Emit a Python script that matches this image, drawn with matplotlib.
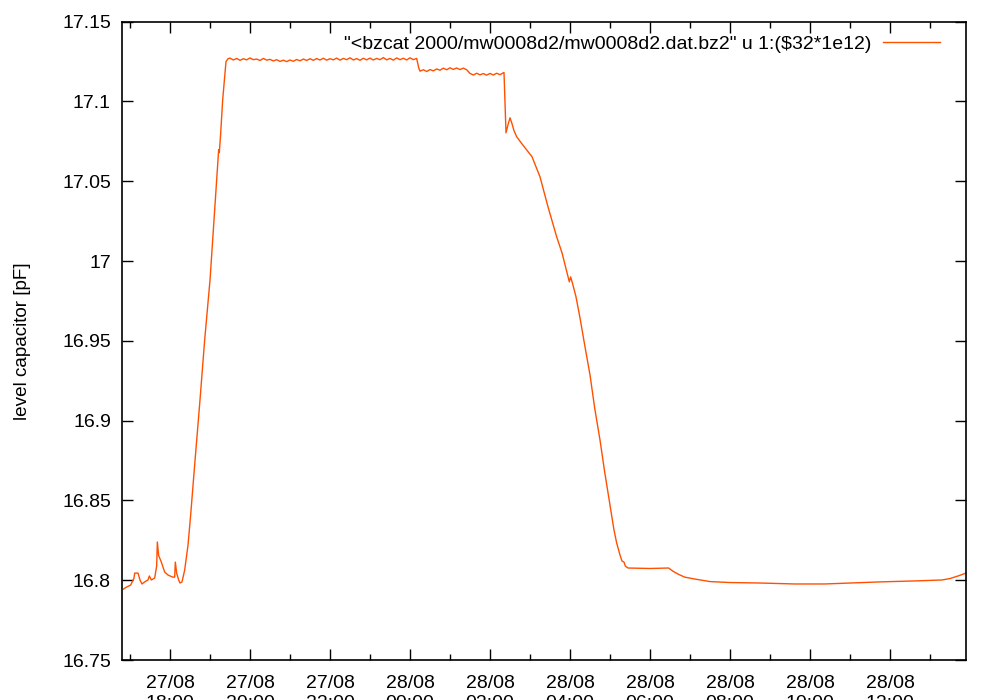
import pandas as pd
import matplotlib
matplotlib.use('Agg')
import matplotlib.pyplot as plt
import matplotlib.dates as mdates

plt.rcParams['font.family'] = ['Liberation Sans', 'DejaVu Sans']

# time stamps (dd/mm HH:MM, year 2000) and level capacitor readings [pF]
times = ['27/08 16:50', '27/08 16:55', '27/08 17:01', '27/08 17:06', '27/08 17:07', '27/08 17:12',
         '27/08 17:15', '27/08 17:18', '27/08 17:22', '27/08 17:27', '27/08 17:29', '27/08 17:32',
         '27/08 17:37', '27/08 17:40', '27/08 17:41', '27/08 17:43', '27/08 17:47', '27/08 17:52',
         '27/08 17:57', '27/08 18:04', '27/08 18:07', '27/08 18:08', '27/08 18:10', '27/08 18:13',
         '27/08 18:15', '27/08 18:18', '27/08 18:22', '27/08 18:27', '27/08 18:31', '27/08 18:37',
         '27/08 18:45', '27/08 18:52', '27/08 19:00', '27/08 19:07', '27/08 19:13', '27/08 19:14',
         '27/08 19:15', '27/08 19:16', '27/08 19:19', '27/08 19:24', '27/08 19:27',
         # first plateau
         '27/08 19:30', '27/08 19:35', '27/08 19:40', '27/08 19:45', '27/08 19:50', '27/08 19:55',
         '27/08 20:00', '27/08 20:05', '27/08 20:10', '27/08 20:15', '27/08 20:20', '27/08 20:25',
         '27/08 20:30', '27/08 20:35', '27/08 20:40', '27/08 20:45', '27/08 20:50', '27/08 20:55',
         '27/08 21:00', '27/08 21:05', '27/08 21:10', '27/08 21:15', '27/08 21:20', '27/08 21:25',
         '27/08 21:30', '27/08 21:35', '27/08 21:40', '27/08 21:45', '27/08 21:50', '27/08 21:55',
         '27/08 22:00', '27/08 22:05', '27/08 22:10', '27/08 22:15', '27/08 22:20', '27/08 22:25',
         '27/08 22:30', '27/08 22:35', '27/08 22:40', '27/08 22:45', '27/08 22:50', '27/08 22:55',
         '27/08 23:00', '27/08 23:05', '27/08 23:10', '27/08 23:15', '27/08 23:20', '27/08 23:25',
         '27/08 23:30', '27/08 23:35', '27/08 23:40', '27/08 23:45', '27/08 23:50', '27/08 23:55',
         '28/08 00:00', '28/08 00:05', '28/08 00:10', '28/08 00:13',
         # second plateau
         '28/08 00:15', '28/08 00:20', '28/08 00:25', '28/08 00:30', '28/08 00:35', '28/08 00:40',
         '28/08 00:45', '28/08 00:50', '28/08 00:55', '28/08 01:00', '28/08 01:05', '28/08 01:10',
         '28/08 01:15', '28/08 01:20', '28/08 01:25',
         # third plateau
         '28/08 01:30', '28/08 01:35', '28/08 01:40', '28/08 01:45', '28/08 01:50', '28/08 01:55',
         '28/08 02:00', '28/08 02:05', '28/08 02:10', '28/08 02:15', '28/08 02:21',
         # drain
         '28/08 02:24', '28/08 02:27', '28/08 02:30', '28/08 02:33', '28/08 02:36', '28/08 02:40',
         '28/08 02:49', '28/08 03:03', '28/08 03:15', '28/08 03:27', '28/08 03:40', '28/08 03:48',
         '28/08 03:59', '28/08 04:01', '28/08 04:04', '28/08 04:09', '28/08 04:15', '28/08 04:22',
         '28/08 04:30', '28/08 04:37', '28/08 04:45', '28/08 04:52', '28/08 05:00', '28/08 05:06',
         '28/08 05:10', '28/08 05:15', '28/08 05:18', '28/08 05:21', '28/08 05:23', '28/08 05:27',
         '28/08 06:00', '28/08 06:28', '28/08 06:34', '28/08 06:42', '28/08 06:52', '28/08 07:07',
         '28/08 07:30', '28/08 08:00', '28/08 08:45', '28/08 09:37', '28/08 10:22', '28/08 11:00',
         '28/08 11:45', '28/08 12:37', '28/08 13:18', '28/08 13:30', '28/08 13:42', '28/08 13:54']
level = [16.7945, 16.7958, 16.7970, 16.8014, 16.8045, 16.8045,
         16.8002, 16.7977, 16.7990, 16.8002, 16.8027, 16.8002,
         16.8014, 16.8090, 16.8240, 16.8155, 16.8114, 16.8052,
         16.8033, 16.8020, 16.8020, 16.8114, 16.8045, 16.8002,
         16.7983, 16.7990, 16.8064, 16.8220, 16.8410, 16.8723,
         16.9130, 16.9506, 16.9880, 17.0321, 17.0698, 17.0680,
         17.0740, 17.0800, 17.1010, 17.1250, 17.1268,
         17.1272, 17.1260, 17.1270, 17.1258, 17.1268, 17.1261,
         17.1273, 17.1262, 17.1266, 17.1257, 17.1270, 17.1259,
         17.1264, 17.1254, 17.1262, 17.1251, 17.1259, 17.1250,
         17.1260, 17.1252, 17.1263, 17.1255, 17.1266, 17.1257,
         17.1268, 17.1258, 17.1269, 17.1260, 17.1271, 17.1259,
         17.1268, 17.1261, 17.1272, 17.1259, 17.1270, 17.1262,
         17.1274, 17.1260, 17.1269, 17.1258, 17.1271, 17.1261,
         17.1272, 17.1260, 17.1270, 17.1262, 17.1275, 17.1261,
         17.1270, 17.1259, 17.1273, 17.1262, 17.1271, 17.1260,
         17.1274, 17.1262, 17.1270, 17.1212,
         17.1190, 17.1199, 17.1188, 17.1200, 17.1192, 17.1204,
         17.1196, 17.1209, 17.1199, 17.1211, 17.1201, 17.1210,
         17.1200, 17.1209, 17.1199,
         17.1176, 17.1166, 17.1177, 17.1167, 17.1175, 17.1165,
         17.1176, 17.1166, 17.1177, 17.1168, 17.1182,
         17.0804, 17.0854, 17.0898, 17.0861, 17.0817, 17.0779,
         17.0729, 17.0654, 17.0528, 17.0340, 17.0152, 17.0052,
         16.9870, 16.9901, 16.9857, 16.9776, 16.9644, 16.9475,
         16.9287, 16.9080, 16.8879, 16.8679, 16.8472, 16.8315,
         16.8234, 16.8158, 16.8121, 16.8114, 16.8089, 16.8077,
         16.8074, 16.8077, 16.8058, 16.8039, 16.8020, 16.8008,
         16.7992, 16.7986, 16.7983, 16.7977, 16.7977, 16.7983,
         16.7990, 16.7996, 16.8002, 16.8011, 16.8027, 16.8045]

t = pd.to_datetime(['2000/' + s for s in times], format='%Y/%d/%m %H:%M')

fig = plt.figure(figsize=(10, 7), dpi=100)
ax = fig.add_axes([0.122, 0.057, 0.844, 0.912])
ax.plot(t, level, color='#ff5000', lw=1.0,
        label='"<bzcat 2000/mw0008d2/mw0008d2.dat.bz2" u 1:($32*1e12)')

ax.set_xlim(pd.Timestamp('2000-08-27 16:48'), pd.Timestamp('2000-08-28 13:54'))
ax.set_ylim(16.75, 17.15)
ax.set_yticks([16.75, 16.8, 16.85, 16.9, 16.95, 17.0, 17.05, 17.1, 17.15])
ax.set_yticklabels(['16.75', '16.8', '16.85', '16.9', '16.95', '17', '17.05', '17.1', '17.15'])
ax.xaxis.set_major_locator(mdates.HourLocator(byhour=range(0, 24, 2)))
ax.xaxis.set_minor_locator(mdates.HourLocator())
ax.xaxis.set_major_formatter(mdates.DateFormatter('%d/%m\n%H:%M'))

ax.tick_params(which='both', direction='in', top=True, right=True, labelsize=14, width=1)
ax.tick_params(which='major', length=8)
ax.tick_params(which='minor', length=4)
ax.tick_params(axis='x', pad=11)
ax.tick_params(axis='y', pad=8)
for s in ax.spines.values():
    s.set_linewidth(1.2)

ax.set_ylabel('level capacitor [pF]', fontsize=13.6)
ax.yaxis.set_label_coords(-0.108, 0.5)
ax.legend(loc='upper right', frameon=False, markerfirst=False, fontsize=14,
          handlelength=2.9, handletextpad=0.6, borderaxespad=0, borderpad=0.35,
          bbox_to_anchor=(0.977, 0.99))

plt.savefig('out.png', dpi=100)
